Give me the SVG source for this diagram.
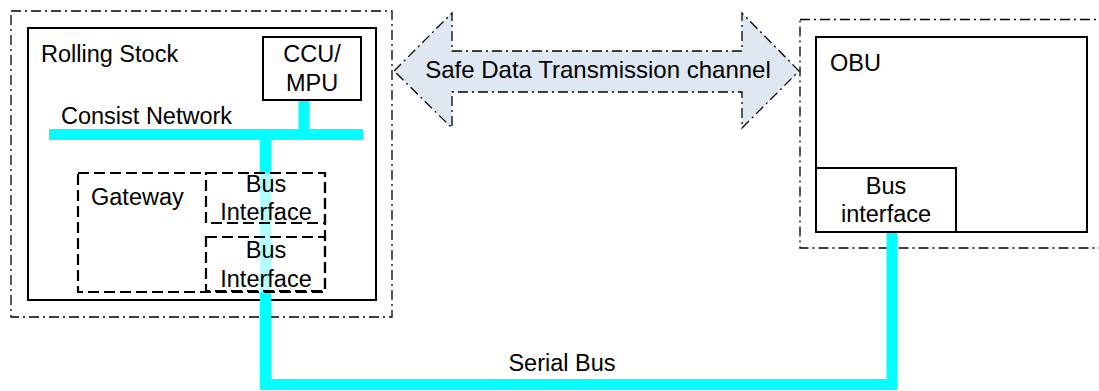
<svg xmlns="http://www.w3.org/2000/svg" width="1099" height="391" viewBox="0 0 1099 391">
<style>
text{font-family:"Liberation Sans",Arial,sans-serif;font-size:23.5px;fill:#000}
.c{text-anchor:middle}
.dd{fill:none;stroke:#000;stroke-width:1.3;stroke-dasharray:10 4 2 4}
.solid{fill:#fff;stroke:#000;stroke-width:2}
.dash{fill:none;stroke:#000;stroke-width:2.2;stroke-dasharray:11 5}
.gw{fill:#fff;fill-opacity:0.7}
.bus{fill:none;stroke:#00ffff;stroke-width:11}
</style>
<g id="rolling-stock-area">
<rect class="dd" x="11" y="11" width="381" height="306"/>
<rect class="solid" x="28" y="28" width="348" height="272"/>
<text x="41" y="62">Rolling Stock</text>
</g>
<g id="obu-area">
<rect class="dd" x="800" y="19.5" width="310" height="228.5"/>
<rect class="solid" x="816" y="37" width="271" height="195"/>
<text x="830" y="71">OBU</text>
</g>
<g id="connectors">
<line class="bus" x1="49" y1="134.5" x2="363" y2="134.5"/>
<line class="bus" x1="304" y1="100" x2="304" y2="134.5"/>
<polyline class="bus" points="265.5,134.5 265.5,384.5 892,384.5 892,232"/>
</g>
<text x="61" y="124">Consist Network</text>
<text class="c" x="562" y="371">Serial Bus</text>
<g id="ccu-mpu">
<rect class="solid" x="263" y="37" width="98" height="63"/>
<text class="c" x="312" y="62">CCU/</text>
<text class="c" x="312" y="91">MPU</text>
</g>
<g id="gateway">
<rect class="dash gw" x="78" y="173" width="247" height="119"/>
<text x="91" y="205">Gateway</text>
</g>
<g id="bus-interface-1">
<rect class="dash" x="206" y="173" width="119" height="50"/>
<text class="c" x="266" y="192">Bus</text>
<text class="c" x="266" y="220">Interface</text>
</g>
<g id="bus-interface-2">
<rect class="dash" x="206" y="237" width="119" height="54"/>
<text class="c" x="266" y="258">Bus</text>
<text class="c" x="266" y="287">Interface</text>
</g>
<g id="obu-bus-interface">
<rect class="solid" x="816" y="168" width="140" height="64"/>
<text class="c" x="886" y="194">Bus</text>
<text class="c" x="886" y="222">interface</text>
</g>
<g id="safe-data-channel">
<polygon points="394,71 452,13 452,51 742,51 742,13 799,71 742,128 742,92 452,92 452,128" fill="#dfe7f2" stroke="#000" stroke-width="1.3" stroke-dasharray="10 4 2 4"/>
<text class="c" x="598" y="78" style="font-size:24px">Safe Data Transmission channel</text>
</g>
</svg>
